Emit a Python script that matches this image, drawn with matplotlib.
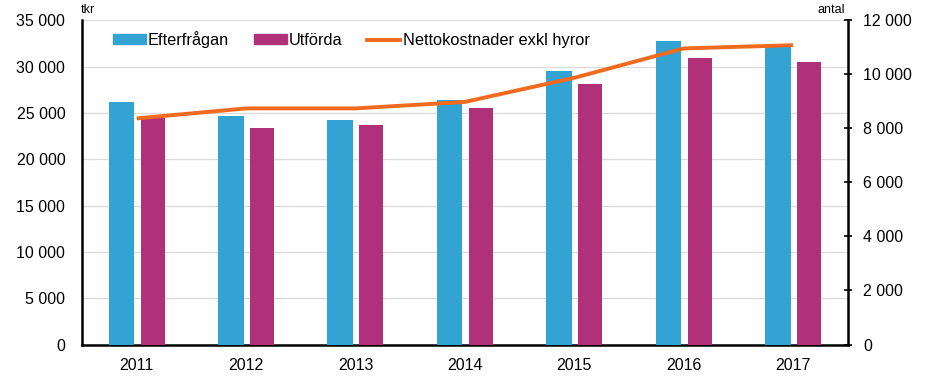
import matplotlib
matplotlib.use("Agg")
import matplotlib.pyplot as plt
import numpy as np
from matplotlib.patches import Patch
from matplotlib.lines import Line2D

years = ["2011", "2012", "2013", "2014", "2015", "2016", "2017"]
efterfragan = [8970, 8460, 8310, 9040, 10110, 11220, 11050]   # antal (right axis)
utforda = [8380, 8010, 8140, 8750, 9650, 10600, 10460]        # antal (right axis)
nettokostnader = [24400, 25480, 25480, 26180, 28780, 31950, 32300]  # tkr (left axis)

left_ticks = [0, 5000, 10000, 15000, 20000, 25000, 30000, 35000]
right_ticks = [0, 2000, 4000, 6000, 8000, 10000, 12000]

def fmt(v):
    return f"{v:,}".replace(",", " ")

plt.rcParams['font.family'] = ['Liberation Sans', 'DejaVu Sans']

BLUE = "#33A3D4"
PURPLE = "#B03079"
ORANGE = "#F26A1D"

fig = plt.figure(figsize=(9.43, 3.78), dpi=100)
pos = [0.087, 0.0886, 0.812, 0.858]
ax = fig.add_axes(pos)
ax2 = ax.twinx()
ax3 = fig.add_axes(pos, sharex=ax, sharey=ax)
ax3.axis("off")
ax3.patch.set_visible(False)
ax2.set_zorder(ax.get_zorder() + 1)
ax3.set_zorder(ax2.get_zorder() + 1)
ax2.patch.set_visible(False)

x = np.arange(len(years))
w = 0.235
off = 0.14
ax2.bar(x - off, efterfragan, width=w, color=BLUE)
ax2.bar(x + off + 0.005, utforda, width=0.22, color=PURPLE)
ax3.plot(x, nettokostnader, color=ORANGE, lw=2.8, solid_capstyle="butt")

ax.set_xlim(-0.5, len(years) - 0.5)
ax.set_ylim(0, 35000)
ax2.set_ylim(0, 12000)

ax.set_yticks(left_ticks)
ax.set_yticklabels([fmt(v) for v in left_ticks], fontsize=11.5)
ax2.set_yticks(right_ticks)
ax2.set_yticklabels([fmt(v) for v in right_ticks], fontsize=11.5)
ax.set_xticks(x)
ax.set_xticklabels(years, fontsize=11.5)

ax.grid(axis="y", color="#DCDCDC", lw=1)
ax.set_axisbelow(True)
ax.tick_params(axis="y", length=0, pad=12)
ax.tick_params(axis="x", length=0, pad=10)
ax2.tick_params(axis="y", direction="inout", length=6, width=1.2, pad=8)

for a in (ax, ax2):
    a.spines["top"].set_visible(False)
ax.spines["right"].set_visible(False)
ax.spines["left"].set_linewidth(1.8)
ax.spines["bottom"].set_linewidth(1.8)
ax2.spines["left"].set_visible(False)
ax2.spines["bottom"].set_visible(False)
ax2.spines["right"].set_linewidth(1.8)

fig.text(0.086, 0.958, "tkr", fontsize=9, ha="left", va="bottom")
fig.text(0.896, 0.958, "antal", fontsize=9, ha="right", va="bottom")

handles = [Patch(color=BLUE), Patch(color=PURPLE), Line2D([], [], color=ORANGE, lw=2.8)]
labels = ["Efterfrågan", "Utförda", "Nettokostnader exkl hyror"]
ax3.legend(handles, labels, loc="upper left", bbox_to_anchor=(0.021, 1.012), ncol=3,
           frameon=False, fontsize=11.8, handlelength=2.0, handleheight=0.55,
           handletextpad=0.15, columnspacing=1.5)

fig.savefig("out.png", dpi=100)
